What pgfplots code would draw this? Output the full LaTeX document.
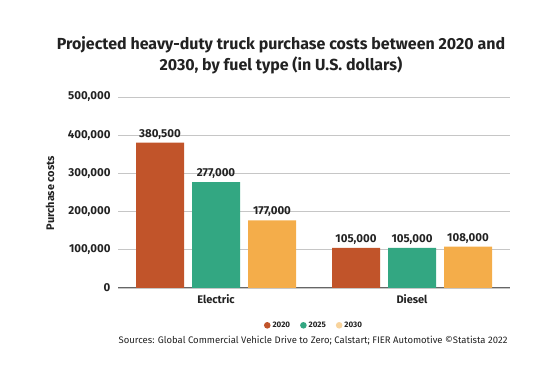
\documentclass[border=0pt]{standalone}
\usepackage{fontspec}
\setmainfont{Fira Sans}
\usepackage{pgfplots}
\pgfplotsset{compat=1.18}
\definecolor{c2020}{HTML}{C1542A}
\definecolor{c2025}{HTML}{33A782}
\definecolor{c2030}{HTML}{F4AD4A}
\definecolor{c2030l}{HTML}{F8D39C}
\definecolor{txt}{HTML}{222222}
\begin{document}
\begin{tikzpicture}[x=1pt,y=1pt]
\path[use as bounding box] (0,0) rectangle (553,377);
\node[font=\fontsize{16}{21}\selectfont\bfseries, text=txt, align=center] at (281,322) {Projected heavy-duty truck purchase costs between 2020 and\\2030, by fuel type (in U.S. dollars)};
\node[font=\fontsize{11}{13}\selectfont\bfseries, text=txt, rotate=90] at (50,184) {Purchase costs};
\begin{axis}[
  at={(118pt,89pt)}, anchor=south west,
  scale only axis, width=392pt, height=191pt,
  ybar=8pt, bar width=48pt,
  xmin=-0.5, xmax=1.5, ymin=0, ymax=500000,
  xtick={0,1}, xticklabels={Electric,Diesel},
  ytick={0,100000,200000,300000,400000,500000},
  axis x line*=bottom, axis y line*=left,
  y axis line style={draw=none},
  x axis line style={draw=gray!80!black, line width=1pt},
  ymajorgrids, grid style={draw=gray!45, line width=0.6pt},
  major tick length=0pt,
  scaled y ticks=false,
  y tick label style={font=\fontsize{11.5}{13}\selectfont\bfseries, text=txt, xshift=-4pt, /pgf/number format/.cd, fixed, precision=0, 1000 sep={,}, assume math mode=true},
  x tick label style={font=\fontsize{11}{13}\selectfont\bfseries, text=txt, yshift=-3pt},
  nodes near coords,
  every node near coord/.append style={font=\fontsize{11.5}{13}\selectfont\bfseries, text=txt, /pgf/number format/.cd, fixed, precision=0, 1000 sep={,}, assume math mode=true},
  legend columns=3,
  legend style={draw=none, at={(0.5,-0.155)}, anchor=north, font=\fontsize{8}{9}\selectfont\bfseries, text=txt, /tikz/every even column/.append style={column sep=8pt}},
  legend image code/.code={\fill[#1] (0pt,0pt) circle (3.3pt);},
]
\addplot[fill=c2020, draw=none] coordinates {(0,380500) (1,105000)};
\addplot[fill=c2025, draw=none] coordinates {(0,277000) (1,105000)};
\addplot[fill=c2030, draw=none, legend image code/.code={\fill[c2030l] (0pt,0pt) circle (3.3pt);}] coordinates {(0,177000) (1,108000)};
\legend{2020,2025,2030}
\end{axis}
\node[font=\fontsize{9.5}{11}\selectfont, text=txt, anchor=east] at (511,36) {Sources: Global Commercial Vehicle Drive to Zero; Calstart; FIER Automotive \textcopyright Statista 2022};
\end{tikzpicture}
\end{document}
